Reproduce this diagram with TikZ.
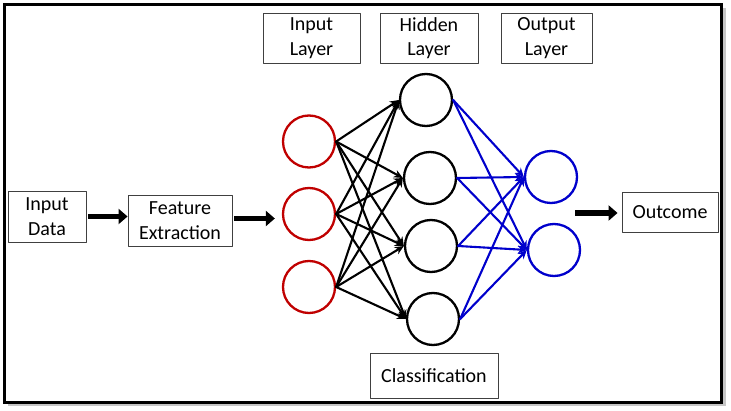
\documentclass[tikz,border=0pt]{standalone}
\usepackage{fontspec}
\setmainfont{Carlito}
\usetikzlibrary{arrows.meta, calc}
\definecolor{inred}{RGB}{192,0,0}
\definecolor{outblue}{RGB}{0,0,204}

\begin{document}
\begin{tikzpicture}[line cap=round,line join=round,x=1pt,y=-1pt,
    box/.style={draw=black!75, line width=0.9pt, fill=white, align=center, inner sep=0pt, font=\fontsize{20}{24.5}\selectfont},
    neuron/.style={circle, line width=2.3pt, minimum size=52pt, inner sep=0pt},
    fat/.style={line width=5.5pt, line cap=butt, -{Triangle[length=9pt,width=15pt]}},
    link/.style={line width=2.1pt, -{Stealth[length=9pt,width=8pt]}}]
    \useasboundingbox (0,0) rectangle (731,411);

    % frame with shadow
    \fill[gray!45] (8,8) rectangle (726,406);
    \draw[line width=3pt, line join=miter, fill=white] (4.5,4.5) rectangle (721.5,402.5);

    % Boxes
    \draw (47,216.5) node[box, minimum width=78pt, minimum height=51pt] (indata) {Input\\Data};
    \draw (180,220.5) node[box, minimum width=104pt, minimum height=51pt] (feat) {Feature\\Extraction};
    \draw (670,212) node[box, minimum width=96pt, minimum height=40pt] (outcome) {Outcome};
    \draw (311.5,38) node[box, minimum width=97pt, minimum height=50pt] (inlayer) {Input\\Layer};
    \draw (429,38) node[box, minimum width=98pt, minimum height=50pt] (hidlayer) {Hidden\\Layer};
    \draw (546.5,38) node[box, minimum width=91pt, minimum height=50pt] (outlayer) {Output\\Layer};
    \draw (434,375.5) node[box, minimum width=128pt, minimum height=45pt] (classif) {Classification};

    % Input layer
    \draw (309,141.5) node[neuron, draw=inred] (i1) {};
    \draw (309,214) node[neuron, draw=inred] (i2) {};
    \draw (309,287) node[neuron, draw=inred] (i3) {};

    % Hidden layer
    \draw (426,100) node[neuron, draw=black] (h1) {};
    \draw (430,178) node[neuron, draw=black] (h2) {};
    \draw (431,246) node[neuron, draw=black] (h3) {};
    \draw (433,319) node[neuron, draw=black] (h4) {};

    % Output layer
    \draw (551,177) node[neuron, draw=outblue] (o1) {};
    \draw (554,250) node[neuron, draw=outblue] (o2) {};

    % Edges
    \foreach \source in {i1, i2, i3} {
        \foreach \target in {h1, h2, h3, h4} {
            \draw[link, black] (\source.east) -- (\target.west);
        }
    }
    \foreach \source in {h1, h2, h3, h4} {
        \foreach \target in {o1, o2} {
            \draw[link, outblue] (\source.east) -- (\target.west);
        }
    }

    % flow arrows
    \draw[fat] (indata.east) ++(2,0) -- (indata.east -| feat.west);
    \draw[fat, shorten >=7pt] (feat.east) ++(2,-2) -- ($(feat.east -| i2.west)+(0,-2)$);
    \coordinate (outstart) at (575,213);
    \draw[fat, shorten >=4pt] (outstart) -- (outstart -| outcome.west);
\end{tikzpicture}
\end{document}
